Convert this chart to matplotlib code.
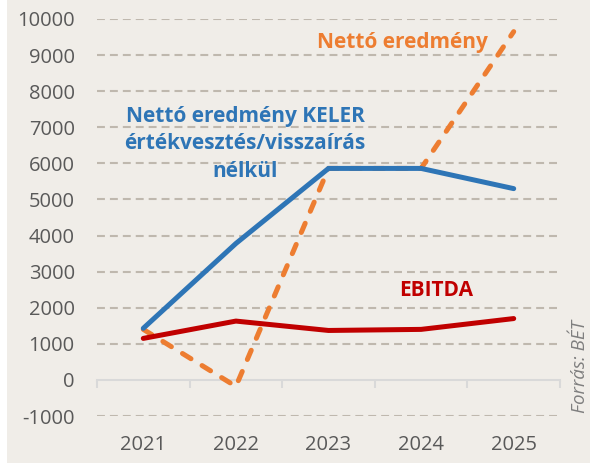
import matplotlib
matplotlib.use('Agg')
import matplotlib.pyplot as plt
from matplotlib.patches import Rectangle
from matplotlib.ticker import FixedLocator

plt.rcParams['font.family'] = ['Open Sans', 'DejaVu Sans']

# adatok (millió Ft)
years = ['2021', '2022', '2023', '2024', '2025']
netto_keler = [1430, 3780, 5860, 5860, 5300]
netto = [1400, -180, 5860, 5860, 9650]
ebitda = [1150, 1630, 1370, 1400, 1700]
yticks = list(range(-1000, 10001, 1000))

bg = '#F0EDE8'
blue = '#2E75B6'
orange = '#ED7D31'
red = '#C00000'
grid_c = '#BFB8AE'
tick_c = '#595959'

fig = plt.figure(figsize=(5.9, 4.65), dpi=100, facecolor='white')
fig.patches.append(Rectangle((7 / 590, 2 / 465), 1, 1, transform=fig.transFigure,
                             facecolor=bg, edgecolor='none', zorder=-10))
ax = fig.add_axes([97 / 590, 49 / 465, 463 / 590, 397 / 465])
ax.set_facecolor('none')

x = list(range(len(years)))
ax.set_xlim(-0.5, len(years) - 0.5)
ax.set_ylim(-1000, 10000)

# rácsvonalak
for v in yticks:
    if v != 0:
        ax.axhline(v, color=grid_c, lw=1.5, dashes=(3.8, 2.4), zorder=1)

ax.plot(x, netto_keler, color=blue, lw=3.6, solid_joinstyle='miter',
        solid_capstyle='round', zorder=4)
ax.plot(x, ebitda, color=red, lw=3.6, solid_capstyle='round', zorder=4)
ax.plot(x, netto, color=orange, lw=3.6, dashes=(2.0, 2.6),
        dash_capstyle='round', zorder=3)

# tengelyek
for s in ['top', 'right', 'left']:
    ax.spines[s].set_visible(False)
ax.spines['bottom'].set_position(('data', 0))
ax.spines['bottom'].set_color('#D9D9D9')
ax.spines['bottom'].set_linewidth(1.5)
ax.spines['bottom'].set_zorder(2)
ax.xaxis.set_major_locator(FixedLocator([]))
ax.xaxis.set_minor_locator(FixedLocator([i - 0.5 for i in range(len(years) + 1)]))
ax.tick_params(axis='x', which='minor', direction='out', length=6,
               width=1.5, color='#D9D9D9')

ax.set_yticks(yticks)
ax.set_yticklabels([str(v) for v in yticks])
ax.tick_params(axis='y', length=0, pad=16, labelsize=14.5, labelcolor=tick_c)

sec = ax.secondary_xaxis(0)
sec.set_xticks(x)
sec.set_xticklabels(years)
sec.tick_params(length=0, pad=14, labelsize=14.5, labelcolor=tick_c)
sec.spines['bottom'].set_visible(False)

# feliratok
ax.text(1.1, 6540, 'Nettó eredmény KELER\nértékvesztés/visszaírás\nnélkül',
        color=blue, fontsize=15, fontweight='bold', ha='center', va='center',
        linespacing=1.42)
ax.text(2.8, 9350, 'Nettó eredmény', color=orange, fontsize=15,
        fontweight='bold', ha='center', va='center')
ax.text(3.16, 2490, 'EBITDA', color=red, fontsize=15, fontweight='bold',
        ha='center', va='center')
fig.text(580 / 590, 1 - 367 / 465, 'Forrás: BÉT', rotation=90, style='italic',
         color='#7F7F7F', fontsize=13.5, ha='center', va='center')

fig.savefig('out.png', dpi=100, facecolor='white')
